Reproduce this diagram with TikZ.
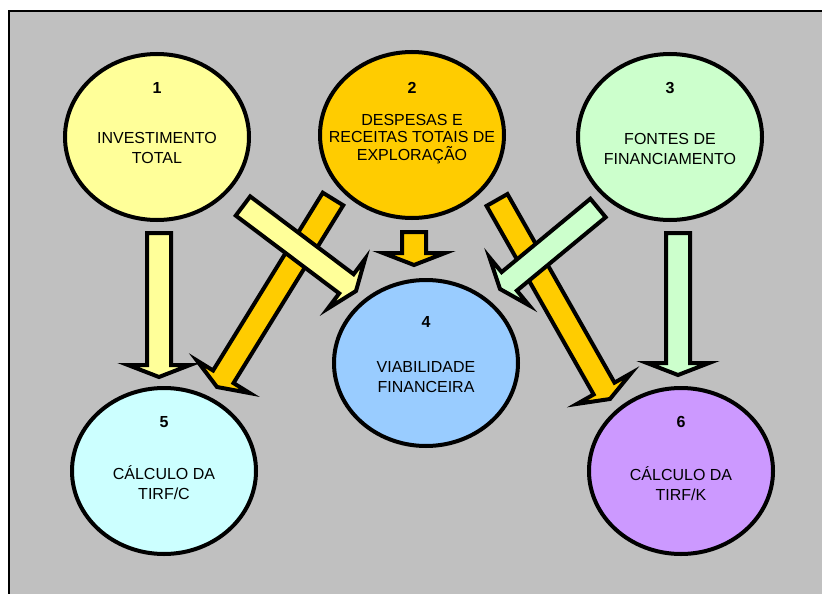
\documentclass[tikz,border=0pt]{standalone}
\usepackage{fontspec}
\setmainfont{Liberation Sans}
\usetikzlibrary{shapes.geometric,calc}

\definecolor{bggray}{HTML}{C0C0C0}
\definecolor{paleyellow}{HTML}{FFFF99}
\definecolor{gold}{HTML}{FFCC00}
\definecolor{palegreen}{HTML}{CCFFCC}
\definecolor{skyblue}{HTML}{99CCFF}
\definecolor{palecyan}{HTML}{CCFFFF}
\definecolor{lilac}{HTML}{CC99FF}

% thick block arrow from tail #1 to tip #2, filled with #3
\newcommand{\blockarrow}[3]{%
  \coordinate (bh) at ($(#2)!12pt!(#1)$);
  \filldraw[fill=#3,draw=black,line width=4pt,line join=miter]
    ($(#1)!12pt!90:(#2)$) --
    ($(bh)!12pt!-90:(#1)$) --
    ($(bh)!31pt!-90:(#1)$) --
    (#2) --
    ($(bh)!31pt!90:(#1)$) --
    ($(bh)!12pt!90:(#1)$) --
    ($(#1)!12pt!-90:(#2)$) -- cycle;
}

\begin{document}
\begin{tikzpicture}[
      x=1pt,y=-1pt,
      bubble/.style={
        draw,ellipse,line width=4pt,minimum width=184pt,minimum height=166pt,inner sep=0pt
      },
      num/.style={font=\fontsize{16}{20}\selectfont\bfseries},
      txt/.style={font=\fontsize{16}{20}\selectfont,align=center},
    ]
    \clip (0,0) rectangle (822,594);
    \useasboundingbox (0,0) rectangle (822,594);
    \filldraw[fill=bggray,draw=black,line width=2pt] (9,11) rectangle (840,610);

    \node[bubble,fill=paleyellow] (invest) at (157,137) {};
    \node[bubble,fill=gold] (desp) at (412,135) {};
    \node[bubble,fill=palegreen] (fontes) at (670,137) {};
    \node[bubble,fill=skyblue] (viab) at (426,363) {};
    \node[bubble,fill=palecyan] (tirfc) at (164,471) {};
    \node[bubble,fill=lilac] (tirfk) at (681,471) {};

    \node[num] (investnum) at (157,88) {1};
    \node[txt] (investtxt) at (157,148) {INVESTIMENTO\\TOTAL};
    \node[num] (despnum) at (412,88) {2};
    \node[txt,font=\fontsize{16}{17.5}\selectfont] (desptxt) at (412,139)
      {DESPESAS E\\RECEITAS TOTAIS DE\\EXPLORAÇÃO};
    \node[num] (fontesnum) at (670,88) {3};
    \node[txt] (fontestxt) at (670,149) {FONTES DE\\FINANCIAMENTO};
    \node[num] (viabnum) at (426,322) {4};
    \node[txt] (viabtxt) at (426,377) {VIABILIDADE\\FINANCEIRA};
    \node[num] (tirfcnum) at (164,422) {5};
    \node[txt] (tirfctxt) at (164,483) {CÁLCULO DA\\TIRF/C};
    \node[num] (tirfknum) at (681,422) {6};
    \node[txt] (tirfktxt) at (681,484) {CÁLCULO DA\\TIRF/K};

    % arrow ends
    \coordinate (t15) at (159,233);
    \coordinate (h15) at (159,377);
    \coordinate (t36) at (678,233);
    \coordinate (h36) at (678,375);
    \coordinate (t24) at (414,232);
    \coordinate (h24) at (414,265);
    \coordinate (t14) at (243,206);
    \coordinate (h14) at (356,291);
    \coordinate (t34) at (598,208);
    \coordinate (h34) at (500,289);
    \coordinate (t25) at (333,199);
    \coordinate (h25) at (217,387);
    \coordinate (t26) at (497,200);
    \coordinate (h26) at (610,399);

    \blockarrow{t25}{h25}{gold}
    \blockarrow{t26}{h26}{gold}
    \blockarrow{t24}{h24}{gold}
    \blockarrow{t15}{h15}{paleyellow}
    \blockarrow{t14}{h14}{paleyellow}
    \blockarrow{t36}{h36}{palegreen}
    \blockarrow{t34}{h34}{palegreen}
  \end{tikzpicture}
\end{document}
